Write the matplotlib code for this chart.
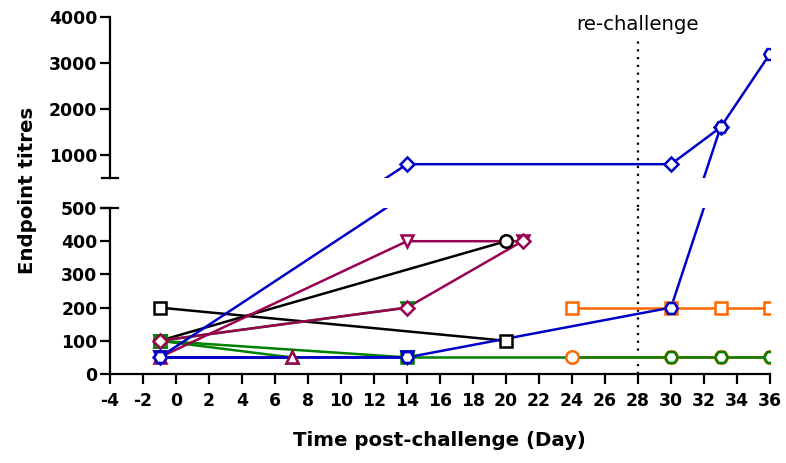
import numpy as np
import matplotlib
matplotlib.use('Agg')
import matplotlib.pyplot as plt

# Colours used by the series
BLACK = '#000000'
BLUE = '#0000C8'
GREEN = '#008000'
PURPLE = '#990050'
ORANGE = '#FF6600'

# Data (day, endpoint titre)
blk_sq_x = [-1, 20];              blk_sq_y = [200, 100]
blk_ci_x = [-1, 20];              blk_ci_y = [100, 400]
grn_tr_x = [-1, 7];               grn_tr_y = [100, 50]
grn_sq_x = [-1, 14];              grn_sq_y = [100, 50]
grn_dt_x = [-1, 14];              grn_dt_y = [100, 200]
org_ci_x = [24, 30, 33, 36];      org_ci_y = [50, 50, 50, 50]
org_sq_x = [24, 30, 33, 36];      org_sq_y = [200, 200, 200, 200]
grn_hx_x = [14, 30, 33, 36];      grn_hx_y = [50, 50, 50, 50]
pur_tr_x = [-1, 7];               pur_tr_y = [50, 50]
pur_dt_x = [-1, 14, 21];          pur_dt_y = [50, 400, 400]
pur_di_x = [-1, 14, 21];          pur_di_y = [100, 200, 400]
blu_dt_x = [-1, 14];              blu_dt_y = [50, 50]
blu_di_x = [-1, 14, 30, 33];      blu_di_y = [50, 800, 800, 1600]
blu_hx_x = [-1, 14, 30, 33, 36];  blu_hx_y = [50, 50, 200, 1600, 3200]

x_ticks = list(range(-4, 37, 2))
low_ticks = [0, 100, 200, 300, 400, 500]
high_ticks = [1000, 2000, 3000, 4000]
break_at = 500

series = [
    (blk_sq_x, blk_sq_y, BLACK, 's', 8.5),
    (blk_ci_x, blk_ci_y, BLACK, 'o', 9),
    (grn_tr_x, grn_tr_y, GREEN, '^', 9),
    (grn_sq_x, grn_sq_y, GREEN, 's', 8.5),
    (grn_dt_x, grn_dt_y, GREEN, 'v', 9),
    (org_sq_x, org_sq_y, ORANGE, 's', 8.5),
    (org_ci_x, org_ci_y, ORANGE, 'o', 9),
    (grn_hx_x, grn_hx_y, GREEN, 'H', 9),
    (pur_tr_x, pur_tr_y, PURPLE, '^', 9),
    (pur_dt_x, pur_dt_y, PURPLE, 'v', 9),
    (pur_di_x, pur_di_y, PURPLE, 'D', 7),
    (blu_dt_x, blu_dt_y, BLUE, 'v', 9),
    (blu_di_x, blu_di_y, BLUE, 'D', 7),
    (blu_hx_x, blu_hx_y, BLUE, 'H', 9),
]

# Piecewise y scale: the part above the break is compressed, so lines that
# cross the break stay straight, as in the broken-axis original
k = (161 / 3500) / (166 / 500)


def fwd(y):
    y = np.asarray(y, dtype=float)
    return np.where(y <= break_at, y, break_at + (y - break_at) * k)


def inv(v):
    v = np.asarray(v, dtype=float)
    return np.where(v <= break_at, v, break_at + (v - break_at) / k)


plt.rcParams['font.family'] = ['DejaVu Sans']
plt.rcParams['axes.unicode_minus'] = False

fig = plt.figure(figsize=(7.86, 4.63), dpi=100)
ax_lo = fig.add_axes([110 / 786, 89 / 463, 660 / 786, 166 / 463])
ax_hi = fig.add_axes([110 / 786, 285 / 463, 660 / 786, 161 / 463])

for ax in (ax_lo, ax_hi):
    ax.set_yscale('function', functions=(fwd, inv))
    ax.set_xlim(-4, 36)
    for i, (xs, ys, c, m, ms) in enumerate(series):
        ax.plot(xs, ys, color=c, lw=1.8, zorder=2)
        ax.plot(xs, ys, ls='none', marker=m, ms=ms, mew=1.8, mec=c,
                mfc='white', zorder=3 + i * 0.01)
    ax.spines['top'].set_visible(False)
    ax.spines['right'].set_visible(False)
    for s in ax.spines.values():
        s.set_linewidth(1.6)
    ax.tick_params(width=1.6, length=7, labelsize=12.4, pad=2)

ax_lo.set_ylim(0, 500)
ax_lo.set_yticks(low_ticks)
ax_lo.set_xticks(x_ticks)
ax_lo.tick_params(axis='x', pad=6)
ax_lo.spines['bottom'].set_zorder(5)

ax_hi.set_ylim(500, 4000)
ax_hi.set_yticks(high_ticks)
ax_hi.set_xticks([])
ax_hi.spines['bottom'].set_visible(False)

for lab in ax_lo.get_xticklabels() + ax_lo.get_yticklabels() + ax_hi.get_yticklabels():
    lab.set_fontweight('bold')

# break marks on both sides of the axis
ax_lo.plot([-0.012, 0.012], [1, 1], transform=ax_lo.transAxes,
           color='black', lw=1.6, clip_on=False)
ax_hi.plot([-0.012, 0.012], [0, 0], transform=ax_hi.transAxes,
           color='black', lw=1.6, clip_on=False)

# re-challenge marker
ax_lo.axvline(28, color='black', ls=(0, (1, 2.5)), lw=1.6, zorder=1)
ax_hi.axvline(28, ymin=-0.18, ymax=0.86, color='black', ls=(0, (1, 2.5)),
              lw=1.6, zorder=1, clip_on=False)
ax_hi.text(28, 3830, 're-challenge', ha='center', va='center',
           fontsize=14.2)

fig.text(28 / 786, 1 - 190 / 463, 'Endpoint titres', rotation=90,
         ha='center', va='center', fontsize=14.2, fontweight='bold')
fig.text(439 / 786, 1 - 441 / 463, 'Time post-challenge (Day)',
         ha='center', va='center', fontsize=14.2, fontweight='bold')

fig.savefig('out.png', dpi=100)
